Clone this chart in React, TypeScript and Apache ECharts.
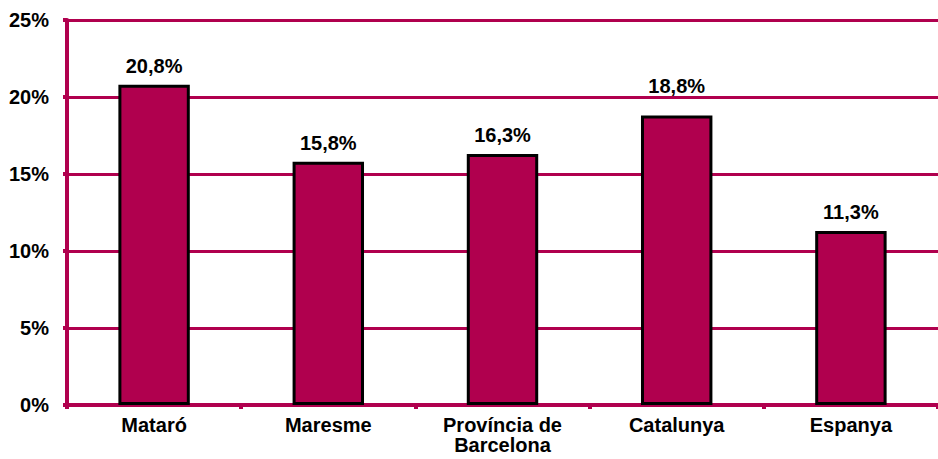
import React, { useEffect, useRef } from "react";
import * as echarts from "echarts";

const categories = ["Mataró", "Maresme", "Província de\nBarcelona", "Catalunya", "Espanya"];
const values = [20.8, 15.8, 16.3, 18.8, 11.3];
const valueLabels = ["20,8%", "15,8%", "16,3%", "18,8%", "11,3%"];
const yTicks = [0, 5, 10, 15, 20, 25];

const MAROON = "#B0004E";
const FONT = "Liberation Sans, Arial, sans-serif";

export default function App() {
  const ref = useRef<HTMLDivElement>(null);
  useEffect(() => {
    const chart = echarts.init(ref.current!, undefined, { renderer: "svg" });
    chart.setOption({
      animation: false,
      backgroundColor: "#ffffff",
      grid: { left: 67, right: -9, top: 20, bottom: 54, containLabel: false },
      xAxis: {
        type: "category",
        data: categories,
        axisLine: { show: true, lineStyle: { color: MAROON, width: 4 } },
        axisTick: { show: true, length: 4, lineStyle: { color: MAROON, width: 4 }, alignWithLabel: false },
        axisLabel: {
          color: "#000",
          fontFamily: FONT,
          fontWeight: "bold",
          fontSize: 20,
          margin: 10,
          lineHeight: 20,
          interval: 0,
        },
      },
      yAxis: {
        type: "value",
        min: yTicks[0],
        max: yTicks[yTicks.length - 1],
        interval: 5,
        axisLine: { show: true, lineStyle: { color: MAROON, width: 4 } },
        axisTick: { show: true, length: 4, lineStyle: { color: MAROON, width: 4 } },
        splitLine: { show: true, lineStyle: { color: MAROON, width: 3 } },
        axisLabel: {
          color: "#000",
          fontFamily: FONT,
          fontWeight: "bold",
          fontSize: 20,
          margin: 18,
          formatter: (v: number) => `${v}%`,
        },
      },
      series: [
        {
          type: "bar",
          barWidth: "41%",
          data: values.map((v, i) => ({
            value: v,
            label: i === 3 ? { distance: 19 } : undefined,
          })),
          itemStyle: { color: MAROON, borderColor: "#000", borderWidth: 3 },
          label: {
            show: true,
            position: "top",
            distance: 9,
            color: "#000",
            fontFamily: FONT,
            fontWeight: "bold",
            fontSize: 20,
            formatter: (p: any) => valueLabels[p.dataIndex],
          },
        },
      ],
    });
    return () => chart.dispose();
  }, []);
  return (
    <div
      ref={ref}
      style={{ position: "fixed", left: 0, top: 0, width: 938, height: 459, background: "#fff" }}
    />
  );
}
